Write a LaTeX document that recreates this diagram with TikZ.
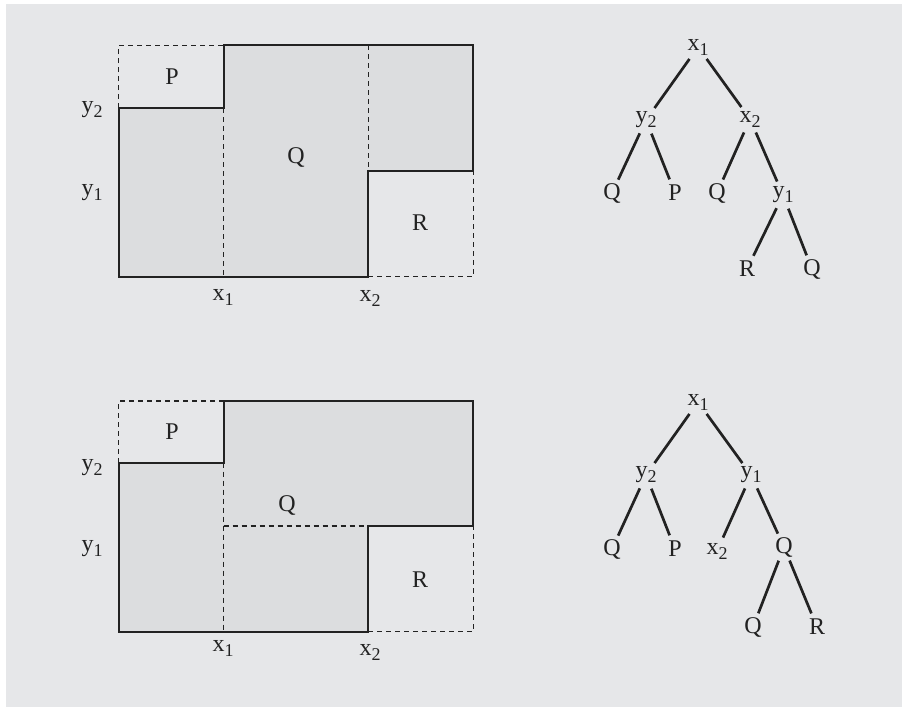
\documentclass[tikz,border=0pt]{standalone}
\usepackage{fontspec}
\setmainfont{Liberation Serif}
\definecolor{panelcol}{HTML}{E6E7E9}
\definecolor{fillcol}{HTML}{DCDDDF}
\definecolor{ink}{HTML}{222222}
\newcommand\mysub[1]{\raisebox{-5pt}{\fontsize{18}{20}\selectfont #1}}
\begin{document}
\begin{tikzpicture}[x=1pt,y=-1pt,
  lab/.style={font=\fontsize{24}{28}\selectfont, text=ink, inner sep=0pt},
  tn/.style={font=\fontsize{24}{28}\selectfont, text=ink, circle, minimum size=29pt, inner sep=0pt},
  solidline/.style={draw=ink, line width=1.8pt, line join=miter},
  dashline/.style={draw=ink, line width=1.3pt, dash pattern=on 5pt off 4pt},
  treeedge/.style={draw=ink, line width=2.7pt}]
\useasboundingbox (0,0) rectangle (902,707);
\fill[white] (0,0) rectangle (902,707);
\fill[panelcol] (6,4) rectangle (902,707);

% ---------- top partition ----------
\def\L{118.7}\def\XA{223.7}\def\XB{368.3}\def\R{473.3}
\begin{scope}
\def\T{45.3}\def\YB{108}\def\YA{170.7}\def\B{276.7}
\fill[fillcol] (\L,\B) -- (\XB,\B) -- (\XB,\YA) -- (\R,\YA) -- (\R,\T) -- (\XA,\T) -- (\XA,\YB) -- (\L,\YB) -- cycle;
\draw[dashline] (\L,\YB) -- (\L,\T) -- (\XA,\T);
\draw[dashline] (\XA,\YB) -- (\XA,\B);
\draw[dashline] (\XB,\T) -- (\XB,\YA);
\draw[dashline] (\XB,\B) -- (\R,\B) -- (\R,\YA);
\draw[solidline] (\L,\B) -- (\XB,\B) -- (\XB,\YA) -- (\R,\YA) -- (\R,\T) -- (\XA,\T) -- (\XA,\YB) -- (\L,\YB) -- cycle;
\end{scope}
\node[lab] (pA) at (172,77) {P};
\node[lab] (qA) at (296,157) {Q};
\node[lab] (rA) at (420,223) {R};
\node[lab] (ybA) at (92,110) {y\mysub{2}};
\node[lab] (yaA) at (92,193) {y\mysub{1}};
\node[lab] (xaA) at (223,297) {x\mysub{1}};
\node[lab] (xbA) at (370,298) {x\mysub{2}};

% ---------- bottom partition ----------
\begin{scope}
\def\T{401}\def\YB{462.7}\def\YA{526}\def\B{631.7}
\fill[fillcol] (\L,\B) -- (\XB,\B) -- (\XB,\YA) -- (\R,\YA) -- (\R,\T) -- (\XA,\T) -- (\XA,\YB) -- (\L,\YB) -- cycle;
\draw[dashline] (\L,\YB) -- (\L,\T) -- (\XA,\T);
\draw[dashline] (\XA,\YB) -- (\XA,\B);
\draw[dashline] (\XA,\YA) -- (\XB,\YA);
\draw[dashline] (\XB,\B) -- (\R,\B) -- (\R,\YA);
\draw[solidline] (\L,\B) -- (\XB,\B) -- (\XB,\YA) -- (\R,\YA) -- (\R,\T) -- (\XA,\T) -- (\XA,\YB) -- (\L,\YB) -- cycle;
\end{scope}
\node[lab] (pB) at (172,432) {P};
\node[lab] (qB) at (287,505) {Q};
\node[lab] (rB) at (420,580) {R};
\node[lab] (ybB) at (92,468) {y\mysub{2}};
\node[lab] (yaB) at (92,549) {y\mysub{1}};
\node[lab] (xaB) at (223,648) {x\mysub{1}};
\node[lab] (xbB) at (370,652) {x\mysub{2}};

% ---------- top tree ----------
\node[tn] (tx1) at (698,47) {x\mysub{1}};
\node[tn] (ty2) at (646,120) {y\mysub{2}};
\node[tn] (tx2) at (750,119) {x\mysub{2}};
\node[tn] (tq1) at (612,193) {Q};
\node[tn] (tp)  at (675,193) {P};
\node[tn] (tq2) at (717,193) {Q};
\node[tn] (ty1) at (783,195) {y\mysub{1}};
\node[tn] (tr)  at (747,269) {R};
\node[tn] (tq3) at (812,269) {Q};
\draw[treeedge] (tx1) -- (ty2);
\draw[treeedge] (tx1) -- (tx2);
\draw[treeedge] (ty2) -- (tq1);
\draw[treeedge] (ty2) -- (tp);
\draw[treeedge] (tx2) -- (tq2);
\draw[treeedge] (tx2) -- (ty1);
\draw[treeedge] (ty1) -- (tr);
\draw[treeedge] (ty1) -- (tq3);

% ---------- bottom tree ----------
\node[tn] (bx1) at (698,402) {x\mysub{1}};
\node[tn] (by2) at (646,475) {y\mysub{2}};
\node[tn] (by1) at (751,475) {y\mysub{1}};
\node[tn] (bq1) at (612,549) {Q};
\node[tn] (bp)  at (675,549) {P};
\node[tn] (bx2) at (717,551) {x\mysub{2}};
\node[tn] (bq2) at (784,547) {Q};
\node[tn] (bq3) at (753,627) {Q};
\node[tn] (br)  at (817,627) {R};
\draw[treeedge] (bx1) -- (by2);
\draw[treeedge] (bx1) -- (by1);
\draw[treeedge] (by2) -- (bq1);
\draw[treeedge] (by2) -- (bp);
\draw[treeedge] (by1) -- (bx2);
\draw[treeedge] (by1) -- (bq2);
\draw[treeedge] (bq2) -- (bq3);
\draw[treeedge] (bq2) -- (br);
\end{tikzpicture}
\end{document}
